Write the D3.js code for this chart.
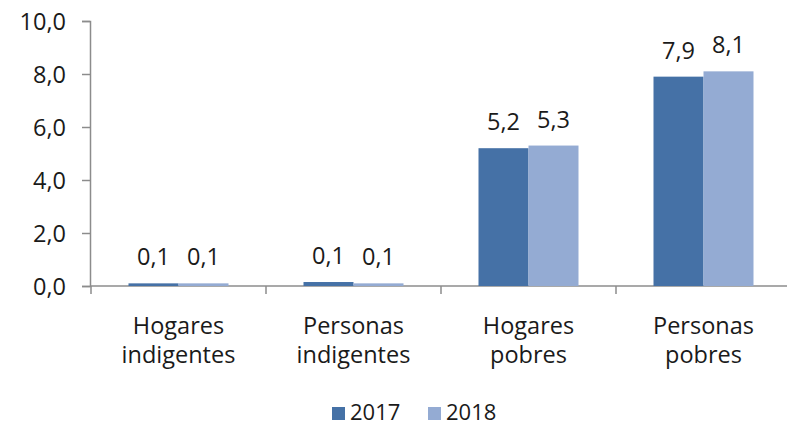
<!DOCTYPE html>
<html>
<head>
<meta charset="utf-8">
<script src="https://cdn.jsdelivr.net/npm/d3@7"></script>
<style>
  body { margin: 0; background: #fff; }
  text { font-family: "Open Sans", sans-serif; fill: #1a1a1a; }
</style>
</head>
<body>
<div id="chart"></div>
<script>
const categories = [['Hogares', 'indigentes'], ['Personas', 'indigentes'], ['Hogares', 'pobres'], ['Personas', 'pobres']];
const years = ['2017', '2018'];
const values2017 = [0.1, 0.15, 5.2, 7.9];
const values2018 = [0.1, 0.1, 5.3, 8.1];
const labels2017 = ['0,1', '0,1', '5,2', '7,9'];
const labels2018 = ['0,1', '0,1', '5,3', '8,1'];
const yTicks = [0, 2, 4, 6, 8, 10];
const colors = ['#4571a6', '#94abd3'];

const width = 787, height = 426;
const svg = d3.select('#chart').append('svg')
              .attr('width', width)
              .attr('height', height);

const x = d3.scaleBand()
            .domain(d3.range(categories.length))
            .range([91, 791])
            .paddingInner(0)
            .paddingOuter(0);

const y = d3.scaleLinear()
            .domain([0, 10])
            .range([286, 21]);

const axisColor = '#8c8c8c';

// y axis
const yAxis = svg.append('g')
                 .attr('transform', 'translate(90,0)')
                 .call(d3.axisLeft(y).tickValues(yTicks).tickSize(8).tickPadding(16)
                         .tickFormat(d => d3.format('.1f')(d).replace('.', ',')));
yAxis.select('.domain').attr('stroke', axisColor).attr('stroke-width', 1.5);
yAxis.selectAll('.tick line').attr('stroke', axisColor).attr('stroke-width', 1.5);
yAxis.selectAll('.tick text').attr('font-size', 23.5).attr('fill', '#1a1a1a').attr('dy', '0.35em');

// x axis line + category ticks
svg.append('line')
   .attr('x1', 90).attr('x2', width)
   .attr('y1', y(0)).attr('y2', y(0))
   .attr('stroke', axisColor).attr('stroke-width', 1.5);
svg.selectAll('.xtick')
   .data(d3.range(categories.length + 1))
   .enter().append('line')
   .attr('class', 'xtick')
   .attr('x1', i => 91 + i * x.bandwidth())
   .attr('x2', i => 91 + i * x.bandwidth())
   .attr('y1', y(0)).attr('y2', y(0) + 8)
   .attr('stroke', axisColor).attr('stroke-width', 1.5);

// bars
const inner = d3.scaleBand()
                .domain(years)
                .range([0, x.bandwidth()])
                .paddingInner(0)
                .paddingOuter(0.75);

const series = [
    { year: '2017', values: values2017, labels: labels2017, color: colors[0] },
    { year: '2018', values: values2018, labels: labels2018, color: colors[1] }
];

series.forEach(s => {
    const g = svg.append('g');
    g.selectAll('rect')
     .data(s.values)
     .enter().append('rect')
     .attr('x', (d, i) => x(i) + inner(s.year))
     .attr('width', inner.bandwidth())
     .attr('y', d => y(d))
     .attr('height', d => y(0) - y(d))
     .attr('fill', s.color);
    g.selectAll('text')
     .data(s.values)
     .enter().append('text')
     .attr('x', (d, i) => x(i) + inner(s.year) + inner.bandwidth() / 2)
     .attr('y', d => y(d) - 18)
     .attr('text-anchor', 'middle')
     .attr('font-size', 23.5)
     .text((d, i) => s.labels[i]);
});

// category labels
const cat = svg.selectAll('.cat')
               .data(categories)
               .enter().append('text')
               .attr('class', 'cat')
               .attr('text-anchor', 'middle')
               .attr('font-size', 23.5);
cat.each(function(lines, i) {
    const t = d3.select(this);
    lines.forEach((l, j) => {
        t.append('tspan')
         .attr('x', x(i) + x.bandwidth() / 2)
         .attr('y', 334 + j * 29)
         .text(l);
    });
});

// legend
const legend = svg.append('g');
const legendX = [332, 428];
series.forEach((s, i) => {
    legend.append('rect')
          .attr('x', legendX[i]).attr('y', 407)
          .attr('width', 13).attr('height', 13)
          .attr('fill', s.color);
    legend.append('text')
          .attr('x', legendX[i] + 18).attr('y', 420)
          .attr('font-size', 22)
          .text(s.year);
});
</script>
</body>
</html>
